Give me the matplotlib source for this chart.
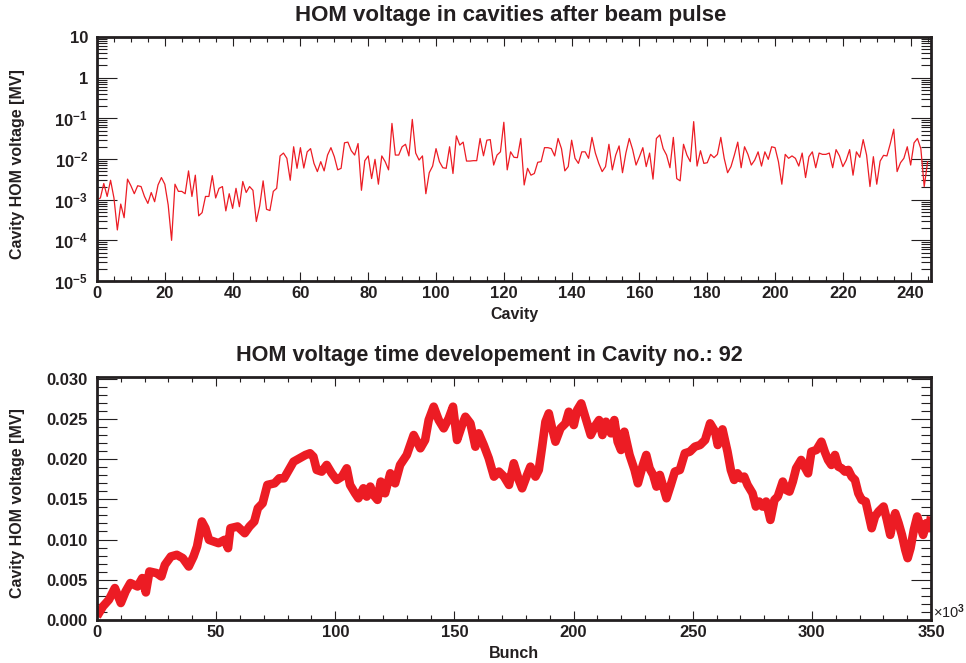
import numpy as np
import matplotlib
matplotlib.use("Agg")
import matplotlib.pyplot as plt
from matplotlib.ticker import (MultipleLocator, FixedLocator, FuncFormatter,
                               LogLocator, NullFormatter)

plt.rcParams['font.family'] = ['Liberation Sans', 'DejaVu Sans']
plt.rcParams['font.weight'] = 'bold'
plt.rcParams['mathtext.fontset'] = 'custom'
plt.rcParams['mathtext.rm'] = 'Liberation Sans:bold'
plt.rcParams['mathtext.bf'] = 'Liberation Sans:bold'
plt.rcParams['mathtext.default'] = 'rm'

# HOM voltage per cavity after the beam pulse [MV], cavity 0..245
cavity_mv = [
    0.0010, 0.0011, 0.0025, 0.0012, 0.0030, 0.0011, 0.00018, 0.00078, 0.00036, 0.0032,
    0.0022, 0.0014, 0.0022, 0.0021, 0.0012, 0.00081, 0.0015, 0.00089, 0.0023, 0.0035,
    0.0024, 0.00074, 0.00010, 0.0024, 0.0016, 0.0016, 0.0014, 0.0051, 0.0012, 0.0040,
    0.00040, 0.00048, 0.0012, 0.0012, 0.0039, 0.0011, 0.0019, 0.0021, 0.00053, 0.0014,
    0.00061, 0.0019, 0.00067, 0.0028, 0.0015, 0.0021, 0.0017, 0.00029, 0.00071, 0.0029,
    0.00058, 0.00054, 0.0016, 0.0019, 0.0119, 0.014, 0.0104, 0.0030, 0.020, 0.0059,
    0.019, 0.0060, 0.015, 0.018, 0.0078, 0.0049, 0.0086, 0.0051, 0.0125, 0.019,
    0.0114, 0.0054, 0.0059, 0.025, 0.026, 0.016, 0.0125, 0.024, 0.0017, 0.0091,
    0.0119, 0.0033, 0.0098, 0.0024, 0.0119, 0.0086, 0.0054, 0.075, 0.0125, 0.0125,
    0.020, 0.023, 0.0119, 0.094, 0.014, 0.0094, 0.0119, 0.0014, 0.0046, 0.0067,
    0.018, 0.0086, 0.0061, 0.0059, 0.020, 0.0044, 0.037, 0.022, 0.026, 0.0089,
    0.0089, 0.0091, 0.0091, 0.032, 0.012, 0.029, 0.030, 0.0071, 0.0125, 0.015,
    0.080, 0.0054, 0.015, 0.011, 0.0108, 0.032, 0.0023, 0.0059, 0.0040, 0.0044,
    0.0083, 0.0086, 0.019, 0.019, 0.018, 0.0119, 0.032, 0.018, 0.0051, 0.0065,
    0.029, 0.0104, 0.0078, 0.015, 0.015, 0.0104, 0.034, 0.014, 0.0078, 0.0049,
    0.0065, 0.023, 0.0054, 0.0125, 0.021, 0.0046, 0.014, 0.032, 0.017, 0.0071,
    0.0114, 0.019, 0.0065, 0.014, 0.0032, 0.032, 0.039, 0.018, 0.0125, 0.0061,
    0.034, 0.0033, 0.0029, 0.023, 0.0125, 0.0086, 0.083, 0.0067, 0.016, 0.0078,
    0.0081, 0.013, 0.0108, 0.013, 0.034, 0.0104, 0.0046, 0.0065, 0.0125, 0.026,
    0.0061, 0.020, 0.013, 0.0071, 0.0094, 0.015, 0.0067, 0.015, 0.0098, 0.020,
    0.019, 0.0086, 0.0024, 0.013, 0.0104, 0.0119, 0.0104, 0.0067, 0.014, 0.0035,
    0.0114, 0.015, 0.0061, 0.014, 0.013, 0.013, 0.014, 0.0061, 0.017, 0.0119,
    0.0065, 0.0094, 0.017, 0.0040, 0.015, 0.011, 0.030, 0.0125, 0.0021, 0.0114,
    0.0024, 0.0089, 0.0123, 0.0119, 0.024, 0.054, 0.0049, 0.0081, 0.0104, 0.020,
    0.0071, 0.025, 0.032, 0.018, 0.0021, 0.0086,
]

# HOM voltage in cavity 92 vs bunch number (bunch in units of 1000)
bunch_k = [
    0, 2.5, 5, 7.5, 10, 12, 14, 17, 19, 20.5,
    22, 25, 27, 28.5, 31, 33.5, 36, 38.5, 40.5, 42,
    44, 45.5, 47, 49, 51, 53.5, 55, 56, 59, 62,
    64, 66, 67.5, 69.5, 71.5, 74.5, 76.5, 78.5, 80.5, 82.5,
    85, 87.5, 89.4, 90.8, 92.2, 94.3, 96.4, 98.5, 100.6, 102.8,
    104.8, 106.2, 108.3, 109.7, 111.8, 113.2, 114.7, 116, 117.7, 119.1,
    120.9, 123.1, 125.1, 127.2, 130, 132.9, 135.7, 137.7, 139.2, 141.3,
    143.4, 145.5, 147.6, 149.4, 151.1, 153.2, 154.6, 156.7, 158.8, 160.2,
    162.3, 164.4, 166.6, 168.7, 170.8, 172.9, 174.9, 177, 178.4, 180.5,
    181.9, 184, 185.4, 186.8, 188.2, 189.6, 191, 192.4, 194.5, 196.6,
    198, 200.1, 201.5, 203.2, 205.1, 207.2, 209.3, 210.7, 212.1, 213.6,
    215.7, 217.1, 218.5, 219.9, 221.3, 223.5, 225.6, 227, 229.1, 230.5,
    231.9, 233.4, 234.8, 236.2, 237.6, 239, 240.8, 242.5, 244.6, 246.7,
    248.8, 250.9, 253.1, 255.2, 257.3, 259.4, 260.5, 262.5, 264.6, 266,
    267.4, 268.8, 270.2, 271.6, 273, 275.1, 276.5, 277.9, 279.3, 280.8,
    282.6, 284.3, 285.7, 287.8, 289.2, 290.6, 292, 293.4, 295.5, 296.9,
    298.4, 299.8, 301.9, 304, 305.4, 306.8, 308.2, 309.7, 311.1, 312.5,
    313.9, 315.3, 316.7, 318.1, 319.5, 320.9, 322.6, 323.7, 325.1, 326.5,
    328, 330.1, 331.5, 332.9, 334.3, 335, 336.4, 337.8, 339.2, 340.2,
    341.4, 342.8, 344.2, 345.6, 346.7, 348, 349.4, 350,
]
hom_mv = [
    0.00045, 0.00169, 0.00252, 0.00397, 0.00211, 0.00355, 0.00459, 0.00417, 0.00521, 0.00343,
    0.00603, 0.00583, 0.00541, 0.00686, 0.00789, 0.00810, 0.00769, 0.00665, 0.00789, 0.00914,
    0.01224, 0.01141, 0.00996, 0.00976, 0.00955, 0.00996, 0.00893, 0.01141, 0.01162, 0.01079,
    0.01162, 0.01224, 0.01389, 0.01451, 0.01679, 0.01699, 0.01761, 0.01761, 0.01865, 0.01968,
    0.02010, 0.02051, 0.02072, 0.02030, 0.01865, 0.01844, 0.01927, 0.01823, 0.01741, 0.01782,
    0.01885, 0.01679, 0.01575, 0.01513, 0.01637, 0.01534, 0.01658, 0.01555, 0.01493, 0.01720,
    0.01575, 0.01823, 0.01699, 0.01927, 0.02051, 0.02299, 0.02134, 0.02237, 0.02485, 0.02651,
    0.02485, 0.02382, 0.02506, 0.02651, 0.02237, 0.02423, 0.02526, 0.02444, 0.02154, 0.02320,
    0.02175, 0.02010, 0.01782, 0.01844, 0.01782, 0.01679, 0.01948, 0.01741, 0.01637, 0.01803,
    0.01906, 0.01782, 0.01865, 0.02154, 0.02464, 0.02568, 0.02382, 0.02216, 0.02382, 0.02444,
    0.02588, 0.02423, 0.02609, 0.02692, 0.02506, 0.02299, 0.02423, 0.02485, 0.02299, 0.02464,
    0.02320, 0.02485, 0.02216, 0.02113, 0.02340, 0.02051, 0.01865, 0.01699, 0.01927, 0.02051,
    0.01885, 0.01803, 0.01658, 0.01803, 0.01658, 0.01513, 0.01679, 0.01844, 0.01865, 0.02072,
    0.02092, 0.02154, 0.02175, 0.02237, 0.02444, 0.02340, 0.02175, 0.02369, 0.02092, 0.01865,
    0.01741, 0.01823, 0.01761, 0.01782, 0.01679, 0.01575, 0.01410, 0.01472, 0.01410, 0.01472,
    0.01244, 0.01493, 0.01534, 0.01720, 0.01617, 0.01596, 0.01720, 0.01885, 0.01989, 0.01906,
    0.01823, 0.02092, 0.02113, 0.02216, 0.02092, 0.01989, 0.01927, 0.02051, 0.01906, 0.01885,
    0.01844, 0.01865, 0.01782, 0.01741, 0.01575, 0.01493, 0.01472, 0.01327, 0.01141, 0.01286,
    0.01348, 0.01410, 0.01244, 0.01058, 0.01265, 0.01327, 0.01203, 0.01058, 0.00872, 0.00769,
    0.00893, 0.01120, 0.01286, 0.01162, 0.01058, 0.01203, 0.01141, 0.01286,
]

RED = '#ec1c24'
INK = '#231f20'


def style_axes(ax, ylen_major, ylen_minor):
    for sp in ax.spines.values():
        sp.set_linewidth(2.0)
        sp.set_color(INK)
    ax.tick_params(which='both', direction='in', top=True, right=True,
                   width=0.8, color=INK, labelcolor=INK, labelsize=12)
    ax.tick_params(axis='y', which='major', length=ylen_major, pad=6.5)
    ax.tick_params(axis='y', which='minor', length=ylen_minor)
    ax.tick_params(axis='x', which='major', length=6.5, pad=3.5)
    ax.tick_params(axis='x', which='minor', length=3.6)


def log_label(v, pos):
    e = int(round(np.log10(v)))
    if e == 0:
        return '1'
    if e == 1:
        return '10'
    return '$10^{%d}$' % e


fig = plt.figure(figsize=(9.66, 6.63), dpi=100)
ax1 = fig.add_axes([97 / 966, 1 - 281 / 663, 834 / 966, 244 / 663])
ax2 = fig.add_axes([97 / 966, 1 - 620 / 663, 834 / 966, 243 / 663])

# cavity scan
ax1.plot(np.arange(len(cavity_mv)), cavity_mv, color=RED, lw=0.9)
ax1.set_yscale('log')
ax1.set_ylim(1e-5, 10)
ax1.set_xlim(0, 246)
ax1.yaxis.set_major_locator(FixedLocator(10.0 ** np.arange(-5, 2)))
ax1.yaxis.set_major_formatter(FuncFormatter(log_label))
ax1.yaxis.set_minor_locator(LogLocator(base=10, subs=np.arange(2, 10), numticks=20))
ax1.yaxis.set_minor_formatter(NullFormatter())
ax1.xaxis.set_major_locator(MultipleLocator(20))
ax1.xaxis.set_minor_locator(MultipleLocator(5))
style_axes(ax1, 14.5, 7.2)

# time development in cavity 92
ax2.plot(np.array(bunch_k) * 1000, hom_mv, color=RED, lw=6.2,
         solid_joinstyle='round', solid_capstyle='butt')
ax2.set_xlim(0, 350000)
ax2.set_ylim(0, 0.0302)
ax2.xaxis.set_major_locator(MultipleLocator(50000))
ax2.xaxis.set_minor_locator(MultipleLocator(10000))
ax2.xaxis.set_major_formatter(FuncFormatter(lambda v, p: '%d' % round(v / 1000)))
ax2.yaxis.set_major_locator(MultipleLocator(0.005))
ax2.yaxis.set_minor_locator(MultipleLocator(0.001))
ax2.yaxis.set_major_formatter(FuncFormatter(lambda v, p: '%.3f' % v))
style_axes(ax2, 14.5, 7.2)

# titles and axis labels
fig.text(511 / 966, 1 - 16 / 663, 'HOM voltage in cavities after beam pulse',
         ha='center', va='center', fontsize=16, color=INK)
fig.text(489.5 / 966, 1 - 355 / 663, 'HOM voltage time developement in Cavity no.: 92',
         ha='center', va='center', fontsize=15.6, color=INK)
fig.text(514 / 966, 1 - 315 / 663, 'Cavity', ha='center', va='center',
         fontsize=11.5, color=INK)
fig.text(514 / 966, 1 - 654 / 663, 'Bunch', ha='center', va='center',
         fontsize=11.5, color=INK)
fig.text(18 / 966, 1 - 164 / 663, 'Cavity HOM voltage [MV]', rotation=90,
         ha='center', va='center', fontsize=11.5, color=INK)
fig.text(18 / 966, 1 - 503 / 663, 'Cavity HOM voltage [MV]', rotation=90,
         ha='center', va='center', fontsize=11.5, color=INK)
fig.text(933 / 966, 1 - 612 / 663, '\u00d710$^{3}$', ha='left', va='center',
         fontsize=10.5, fontweight='normal', color=INK)

fig.savefig('out.png', dpi=100)
